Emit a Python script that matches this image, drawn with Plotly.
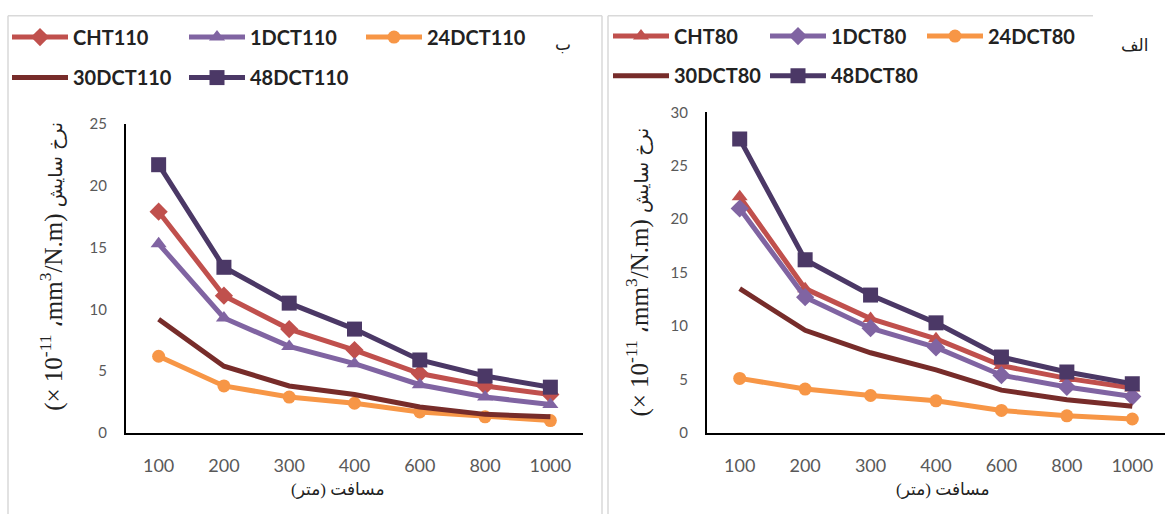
import plotly.graph_objects as go

distances = ["100", "200", "300", "400", "600", "800", "1000"]

# Panel ب (110)
names_110 = ["CHT110", "1DCT110", "24DCT110", "30DCT110", "48DCT110"]
cht110 = [17.9, 11.1, 8.4, 6.7, 4.8, 3.8, 3.1]
dct1_110 = [15.3, 9.3, 7.0, 5.6, 3.9, 2.9, 2.3]
dct24_110 = [6.2, 3.8, 2.9, 2.4, 1.7, 1.3, 1.0]
dct30_110 = [9.2, 5.4, 3.8, 3.1, 2.1, 1.5, 1.3]
dct48_110 = [21.7, 13.4, 10.5, 8.4, 5.9, 4.6, 3.7]

# Panel الف (80)
names_80 = ["CHT80", "1DCT80", "24DCT80", "30DCT80", "48DCT80"]
cht80 = [22.1, 13.5, 10.7, 8.8, 6.3, 5.1, 4.2]
dct1_80 = [21.0, 12.7, 9.8, 8.0, 5.4, 4.3, 3.4]
dct24_80 = [5.1, 4.1, 3.5, 3.0, 2.1, 1.6, 1.3]
dct30_80 = [13.5, 9.6, 7.5, 5.9, 4.0, 3.1, 2.5]
dct48_80 = [27.5, 16.2, 12.9, 10.3, 7.1, 5.7, 4.6]

colors = ["#C0504D", "#8064A2", "#F79646", "#772C2A", "#4B3866"]
symbols_110 = ["diamond", "triangle-up", "circle", None, "square"]
symbols_80 = ["triangle-up", "diamond", "circle", None, "square"]
sizes = {"diamond": 14, "triangle-up": 14, "circle": 13, "square": 15}

W, H = 1167, 522
fig = go.Figure()

def add_series(names, values, symbols, xa, ya, legends):
    for i, (n, v, s) in enumerate(zip(names, values, symbols)):
        mode = "lines+markers" if s else "lines"
        marker = dict(symbol=s, size=sizes[s], color=colors[i]) if s else None
        fig.add_trace(go.Scatter(
            x=distances, y=v, name=n, mode=mode,
            line=dict(color=colors[i], width=5),
            marker=marker, xaxis=xa, yaxis=ya,
            legend=legends[i], showlegend=True,
        ))

add_series(names_110, [cht110, dct1_110, dct24_110, dct30_110, dct48_110],
           symbols_110, "x", "y", ["legend", "legend", "legend", "legend2", "legend2"])
add_series(names_80, [cht80, dct1_80, dct24_80, dct30_80, dct48_80],
           symbols_80, "x2", "y2", ["legend3", "legend3", "legend3", "legend4", "legend4"])

def px_x(p):
    return p / W

def px_y(p):
    return 1 - p / H

tickfont = dict(family="Lato, Liberation Sans, sans-serif", size=15, color="#595959")
xtickfont = dict(family="Lato, Liberation Sans, sans-serif", size=18, color="#595959")

common_x = dict(type="category", categoryorder="array", categoryarray=distances,
                range=[-0.5, 6.5], showline=True, linecolor="black", linewidth=2,
                showgrid=False, zeroline=False, ticks="", tickfont=xtickfont,
                ticklabelstandoff=16, fixedrange=True)
common_y = dict(showline=True, linecolor="black", linewidth=2, showgrid=False,
                zeroline=False, ticks="", tickfont=tickfont, dtick=5,
                ticklabelstandoff=14, fixedrange=True)

fig.update_layout(
    width=W, height=H,
    margin=dict(l=0, r=0, t=0, b=0),
    paper_bgcolor="white", plot_bgcolor="white",
    xaxis=dict(domain=[px_x(126), px_x(583)], anchor="y", **common_x),
    yaxis=dict(domain=[px_y(438), px_y(118)], anchor="x", range=[0, 25], **common_y),
    xaxis2=dict(domain=[px_x(707), px_x(1165)], anchor="y2", **common_x),
    yaxis2=dict(domain=[px_y(438), px_y(106)], anchor="x2", range=[0, 30], **common_y),
)

legfont = dict(family="Lato, Liberation Sans, sans-serif", size=20, color="#222222", weight="bold")

def leg(x, y, ew):
    return dict(orientation="h", x=px_x(x), y=px_y(y), xanchor="left", yanchor="middle",
                font=legfont, itemwidth=56, entrywidth=ew, entrywidthmode="pixels",
                bgcolor="rgba(0,0,0,0)", tracegroupgap=0, itemclick=False, itemdoubleclick=False)

fig.update_layout(
    legend=leg(7, 28, 106),
    legend2=leg(7, 70, 106),
    legend3=leg(608, 27, 86),
    legend4=leg(608, 68, 86),
)

ytitle = ("(× 10<sup>-11</sup> ،mm<sup>3</sup>/N.m) "
          "<span style='font-family:DejaVu Sans; font-size:19px'>نرخ سایش</span>")
# written so that a right-to-left base direction shows "مسافت" left of "(متر)"
xtitle = "(متر) مسافت"
tfont = dict(family="Liberation Serif, DejaVu Sans, serif", size=25, color="#222222")
afont = dict(family="Liberation Serif, DejaVu Sans, serif", size=17, color="#222222")

annotations = [
    dict(text=ytitle, x=px_x(52), y=px_y(266), textangle=-90, font=tfont),
    dict(text=ytitle, x=px_x(638), y=px_y(272), textangle=-90, font=tfont),
    dict(text=xtitle, x=px_x(338), y=px_y(497), font=afont),
    dict(text=xtitle, x=px_x(943), y=px_y(497), font=afont),
    dict(text="ب", x=px_x(563), y=px_y(36), font=afont),
    dict(text="الف", x=px_x(1135), y=px_y(37), font=afont),
]
for a in annotations:
    a.update(xref="paper", yref="paper", showarrow=False, xanchor="center", yanchor="middle")
fig.update_layout(annotations=annotations)

gray = "#D9D9D9"
lines = [
    (8, 6, 602, 6), (8, 6, 8, 522), (602, 6, 602, 522),
    (608, 6, 1093, 6), (608, 6, 608, 522),
]
fig.update_layout(shapes=[
    dict(type="line", xref="paper", yref="paper", x0=px_x(a), y0=px_y(b), x1=px_x(c), y1=px_y(d),
         line=dict(color=gray, width=1.5)) for a, b, c, d in lines
])

fig.write_html("out.html", config={"displayModeBar": False},
               post_script="document.body.style.margin='0';document.body.style.overflow='hidden';")
